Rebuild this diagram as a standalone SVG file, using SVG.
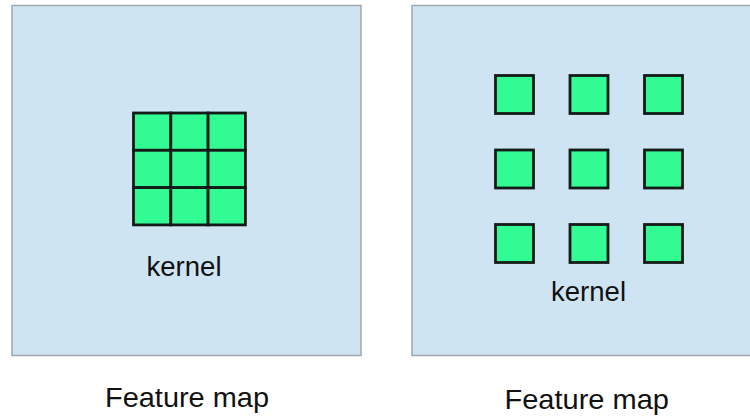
<svg xmlns="http://www.w3.org/2000/svg" width="750" height="418" viewBox="0 0 750 418">
<style>
.map{fill:#cfe4f3;stroke:#9ea6ae;stroke-width:1.5}
.cell{fill:#33fb93;stroke:#141a17;stroke-width:2.8}
.lbl{font-family:"Liberation Sans",Arial,sans-serif;font-size:27.5px;fill:#111;text-anchor:middle}
</style>
<rect width="750" height="418" fill="#fff"/>
<g id="left-map">
<rect class="map" x="12" y="5.5" width="349" height="350"/>
<g id="dense-kernel">
<rect class="cell" x="133.5" y="113" width="37.3" height="37.3"/>
<rect class="cell" x="170.8" y="113" width="37.3" height="37.3"/>
<rect class="cell" x="208.1" y="113" width="37.3" height="37.3"/>
<rect class="cell" x="133.5" y="150.3" width="37.3" height="37.3"/>
<rect class="cell" x="170.8" y="150.3" width="37.3" height="37.3"/>
<rect class="cell" x="208.1" y="150.3" width="37.3" height="37.3"/>
<rect class="cell" x="133.5" y="187.6" width="37.3" height="37.3"/>
<rect class="cell" x="170.8" y="187.6" width="37.3" height="37.3"/>
<rect class="cell" x="208.1" y="187.6" width="37.3" height="37.3"/>
</g>
<text class="lbl" x="184" y="275.5" textLength="75" lengthAdjust="spacingAndGlyphs">kernel</text>
<text class="lbl" x="187" y="407" textLength="164" lengthAdjust="spacingAndGlyphs">Feature map</text>
</g>
<g id="right-map">
<rect class="map" x="412" y="5.5" width="345" height="350"/>
<g id="dilated-kernel">
<rect class="cell" x="495.5" y="75.5" width="38" height="38"/>
<rect class="cell" x="570" y="75.5" width="38" height="38"/>
<rect class="cell" x="644.5" y="75.5" width="38" height="38"/>
<rect class="cell" x="495.5" y="150" width="38" height="38"/>
<rect class="cell" x="570" y="150" width="38" height="38"/>
<rect class="cell" x="644.5" y="150" width="38" height="38"/>
<rect class="cell" x="495.5" y="224.5" width="38" height="38"/>
<rect class="cell" x="570" y="224.5" width="38" height="38"/>
<rect class="cell" x="644.5" y="224.5" width="38" height="38"/>
</g>
<text class="lbl" x="588.5" y="301" textLength="75" lengthAdjust="spacingAndGlyphs">kernel</text>
<text class="lbl" x="586.7" y="409" textLength="164.5" lengthAdjust="spacingAndGlyphs">Feature map</text>
</g>
<g id="connectors"/>
</svg>
